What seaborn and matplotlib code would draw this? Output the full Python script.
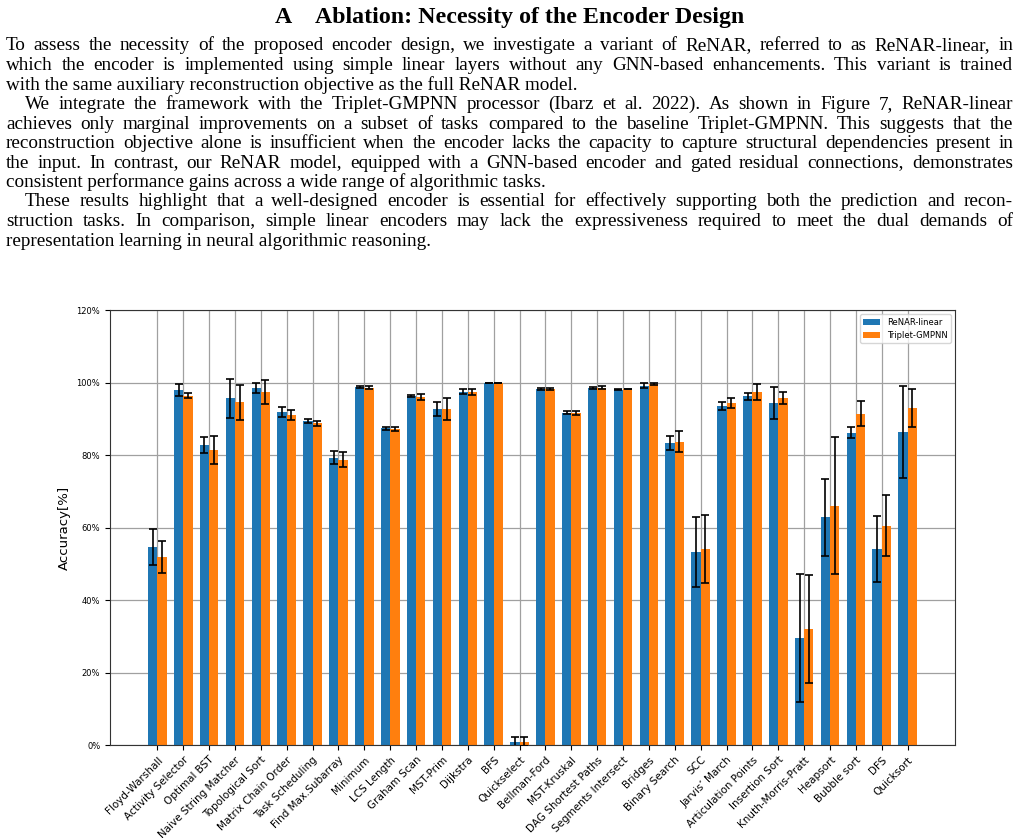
import matplotlib
matplotlib.use("Agg")
import matplotlib.pyplot as plt
import seaborn as sns
import pandas as pd
import numpy as np
from matplotlib.ticker import FuncFormatter

categories = ["Floyd-Warshall", "Activity Selector", "Optimal BST", "Naive String Matcher",
              "Topological Sort", "Matrix Chain Order", "Task Scheduling", "Find Max.Subarray",
              "Minimum", "LCS Length", "Graham Scan", "MST-Prim", "Dijkstra", "BFS",
              "Quickselect", "Bellman-Ford", "MST-Kruskal", "DAG Shortest Paths",
              "Segments Intersect", "Bridges", "Binary Search", "SCC", "Jarvis\u2019 March",
              "Articulation Points", "Insertion Sort", "Knuth-Morris-Pratt", "Heapsort",
              "Bubble sort", "DFS", "Quicksort"]
series_names = ["ReNAR-linear", "Triplet-GMPNN"]
renar_linear = [54.7, 97.9, 82.7, 95.6, 98.5, 91.8, 89.3, 79.3, 98.7, 87.4,
                96.3, 92.7, 97.5, 100.0, 0.9, 98.2, 91.7, 98.5, 98.0, 99.1,
                83.3, 53.3, 93.5, 96.2, 94.3, 29.6, 62.8, 86.2, 54.1, 86.3]
renar_linear_err = [5.0, 1.6, 2.2, 5.5, 1.4, 1.4, 0.6, 1.8, 0.3, 0.4,
                    0.3, 2.0, 0.8, 0.0, 1.4, 0.2, 0.4, 0.3, 0.2, 0.7,
                    2.0, 9.6, 1.0, 0.9, 4.4, 17.6, 10.6, 1.5, 9.1, 12.7]
triplet_gmpnn = [51.9, 96.3, 81.3, 94.5, 97.4, 91.0, 88.8, 78.7, 98.6, 87.1,
                 95.9, 92.7, 97.4, 100.0, 0.9, 98.2, 91.6, 98.6, 98.2, 99.6,
                 83.7, 54.1, 94.3, 97.4, 95.8, 32.1, 66.0, 91.4, 60.5, 92.9]
triplet_gmpnn_err = [4.4, 0.7, 3.9, 4.8, 3.2, 1.4, 0.7, 2.1, 0.3, 0.5,
                     0.8, 3.0, 0.8, 0.0, 1.3, 0.2, 0.5, 0.3, 0.1, 0.3,
                     3.0, 9.4, 1.3, 2.1, 1.6, 14.9, 18.9, 3.5, 8.4, 5.2]
y_ticks = [0, 20, 40, 60, 80, 100, 120]

title_label = "A"
title_text = "Ablation: Necessity of the Encoder Design"
body_lines = [
    ("To assess the necessity of the proposed encoder design, we investigate a variant of ReNAR, referred to as ReNAR-linear, in", False, True),
    ("which the encoder is implemented using simple linear layers without any GNN-based enhancements. This variant is trained", False, True),
    ("with the same auxiliary reconstruction objective as the full ReNAR model.", False, False),
    ("We integrate the framework with the Triplet-GMPNN processor (Ibarz et al. 2022). As shown in Figure 7, ReNAR-linear", True, True),
    ("achieves only marginal improvements on a subset of tasks compared to the baseline Triplet-GMPNN. This suggests that the", False, True),
    ("reconstruction objective alone is insufficient when the encoder lacks the capacity to capture structural dependencies present in", False, True),
    ("the input. In contrast, our ReNAR model, equipped with a GNN-based encoder and gated residual connections, demonstrates", False, True),
    ("consistent performance gains across a wide range of algorithmic tasks.", False, False),
    ("These results highlight that a well-designed encoder is essential for effectively supporting both the prediction and recon-", True, True),
    ("struction tasks. In comparison, simple linear encoders may lack the expressiveness required to meet the dual demands of", False, True),
    ("representation learning in neural algorithmic reasoning.", False, False),
]

W, H = 1022, 838
fig = plt.figure(figsize=(W / 100, H / 100), dpi=100)
renderer = fig.canvas.get_renderer()

def fx(px):
    return px / W

def fy(py):
    return 1 - py / H

serif = "Liberation Serif"
body_size = 13.8
fig.text(fx(275), fy(23), title_label, fontsize=17.2, fontweight="bold", family=serif, va="baseline")
fig.text(fx(315), fy(23), title_text, fontsize=17.2, fontweight="bold", family=serif, va="baseline")

left_px, right_px, indent_px = 6, 1013, 25
base0, step = 50.5, 19.5
for i, (line, indented, justified) in enumerate(body_lines):
    yb = base0 + i * step
    x0 = indent_px if indented else left_px
    words = line.split(" ")
    if not justified:
        fig.text(fx(x0), fy(yb), line, fontsize=body_size, family=serif, va="baseline")
        continue
    arts = [fig.text(0, fy(yb), w, fontsize=body_size, family=serif, va="baseline") for w in words]
    widths = [a.get_window_extent(renderer).width for a in arts]
    gap = (right_px - x0 - sum(widths)) / (len(words) - 1)
    x = x0
    for a, wd in zip(arts, widths):
        a.set_x(fx(x))
        x += wd + gap

ax = fig.add_axes([fx(110), fy(745), fx(955) - fx(110), fy(310) - fy(745)])

df = pd.DataFrame({
    "task": categories * 2,
    "model": [series_names[0]] * len(categories) + [series_names[1]] * len(categories),
    "acc": renar_linear + triplet_gmpnn,
})
sns.barplot(data=df, x="task", y="acc", hue="model", order=categories, hue_order=series_names,
            palette=["#1f77b4", "#ff7f0e"], width=0.72, errorbar=None, linewidth=0,
            saturation=1, ax=ax, zorder=2)

for cont, errs in zip(ax.containers, [renar_linear_err, triplet_gmpnn_err]):
    xs = [b.get_x() + b.get_width() / 2 for b in cont]
    hs = [b.get_height() for b in cont]
    ax.errorbar(xs, hs, yerr=errs, fmt="none", ecolor="black", elinewidth=1.2,
                capsize=3, capthick=1.2, zorder=3)

ax.set_xlim(-1.83, 30.83)
ax.set_ylim(0, 120)
ax.set_yticks(y_ticks)
ax.yaxis.set_major_formatter(FuncFormatter(lambda v, p: f"{int(v)}%"))
ax.tick_params(axis="y", labelsize=6)
ax.set_xticks(range(len(categories)))
ax.set_xticklabels(categories, rotation=45, ha="right", rotation_mode="anchor", fontsize=7.5)
ax.set_xlabel("")
ax.set_ylabel("Accuracy[%]", fontsize=9.5)
ax.grid(True, color="#a0a0a0", linewidth=0.9)
ax.set_axisbelow(True)
for s in ax.spines.values():
    s.set_color("#333333")
    s.set_linewidth(0.8)

handles, labels = ax.get_legend_handles_labels()
ax.legend(handles, labels, loc="upper right", fontsize=6, frameon=True)

fig.savefig("out.png", dpi=100)
